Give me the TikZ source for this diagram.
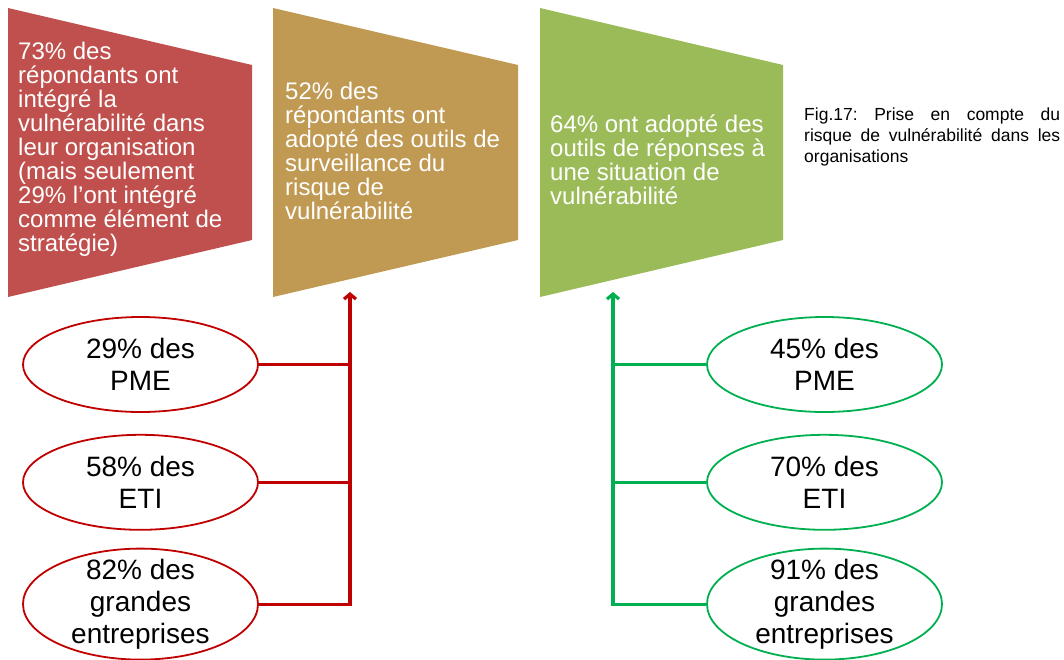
\documentclass[tikz,border=0pt]{standalone}
\usepackage{fontspec}
\setmainfont{Liberation Sans}
\usetikzlibrary{positioning,arrows.meta,shapes.geometric}

\definecolor{boxred}{RGB}{192,80,77}
\definecolor{boxtan}{RGB}{192,153,82}
\definecolor{boxgreen}{RGB}{155,187,89}
\definecolor{linkred}{RGB}{192,0,0}
\definecolor{linkgreen}{RGB}{0,176,80}

\tikzset{
  boxtext/.style={anchor=north west, inner sep=0pt, align=left, text=white,
    font=\fontsize{24}{24}\selectfont},
  share/.style={ellipse, draw=#1, line width=1.8pt, fill=white,
    minimum width=235pt, minimum height=95pt, inner xsep=0pt, inner ysep=-8pt,
    align=center, font=\fontsize{28}{32}\selectfont},
  feed/.style={draw=#1, line width=3.2pt},
  rise/.style={feed=#1, -{Straight Barb[length=5pt,width=12pt]}},
  caption/.style={anchor=north west, inner sep=0pt, text width=256pt,
    align=justify, font=\fontsize{17.5}{21}\selectfont\frenchspacing},
}

\begin{document}
\begin{tikzpicture}[x=1pt, y=-1pt]

  \useasboundingbox (0,0) rectangle (1064,659);

  % Funnels
  \fill[boxred]   (8,8)   -- (252,65) -- (252,240) -- (8,297)   -- cycle;
  \fill[boxtan]   (273,8) -- (518,65) -- (518,240) -- (273,297) -- cycle;
  \fill[boxgreen] (540,8) -- (783,65) -- (783,240) -- (540,297) -- cycle;

  \node[boxtext] (integ) at (18,42) {73\% des\\r\'epondants ont\\int\'egr\'e la\\vuln\'erabilit\'e dans\\leur organisation\\(mais seulement\\29\% l'ont int\'egr\'e\\comme \'el\'ement de\\strat\'egie)};
  \node[boxtext] (surv) at (285,82) {52\% des\\r\'epondants ont\\adopt\'e des outils de\\surveillance du\\risque de\\vuln\'erabilit\'e};
  \node[boxtext] (resp) at (550,115) {64\% ont adopt\'e des\\outils de r\'eponses \`a\\une situation de\\vuln\'erabilit\'e};

  \node[caption] (fig) at (804,108) {Fig.17: Prise en compte du\linebreak risque de vuln\'erabilit\'e dans les\linebreak organisations};

  % Define nodes
  \node[share=linkred]                      (rpme) at (140.5,364.5) {29\% des\\PME};
  \node[share=linkred, below=21pt of rpme]  (reti)  {58\% des\\ETI};
  \node[share=linkred, below=17pt of reti, minimum height=111pt] (rge) {82\% des\\grandes\\entreprises};

  \node[share=linkgreen]                      (gpme) at (824.5,364.5) {45\% des\\PME};
  \node[share=linkgreen, below=21pt of gpme]  (geti)  {70\% des\\ETI};
  \node[share=linkgreen, below=17pt of geti, minimum height=111pt] (gge) {91\% des\\grandes\\entreprises};

  \coordinate (rtop) at (350,292);
  \coordinate (gtop) at (613,292);

  % Connect the nodes
  \draw[rise=linkred] (rge.east) -| (rtop);
  \draw[feed=linkred] (rpme.east) -- (rpme.east -| rtop);
  \draw[feed=linkred] (reti.east) -- (reti.east -| rtop);

  \draw[rise=linkgreen] (gge.west) -| (gtop);
  \draw[feed=linkgreen] (gpme.west) -- (gpme.west -| gtop);
  \draw[feed=linkgreen] (geti.west) -- (geti.west -| gtop);

\end{tikzpicture}
\end{document}
